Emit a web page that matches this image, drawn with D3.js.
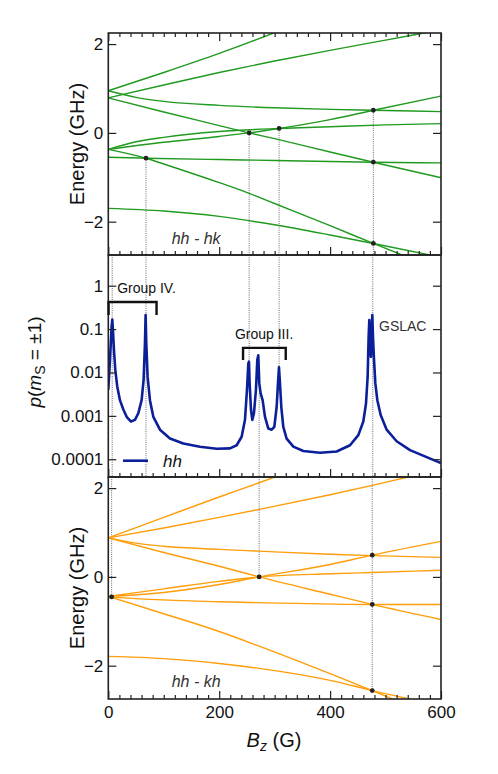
<!DOCTYPE html>
<html>
<head>
<meta charset="utf-8">
<script src="https://cdnjs.cloudflare.com/ajax/libs/d3/7.8.5/d3.min.js"></script>
<style>
body{margin:0;background:#fff;}
text{font-family:"Liberation Sans",Arial,Helvetica,sans-serif;}
</style>
</head>
<body>
<div id="chart"></div>
<script>
var w=498, h=774, left=108.3, right=441

// hh - hk energy levels, [B (G), E (GHz)]
var hkLevels=[
 [[0,0.95],[100,1.36],[200,1.79],[300,2.26],[320,2.36]],
 [[0,0.79],[100,1.08],[200,1.36],[300,1.62],[400,1.86],[500,2.09],[600,2.32]],
 [[0,0.95],[50,0.8],[100,0.71],[200,0.62],[300,0.565],[400,0.53],[478,0.51],[600,0.48]],
 [[0,0.79],[100,0.47],[200,0.165],[254,0],[300,-0.13],[400,-0.43],[478,-0.66],[600,-1.01]],
 [[0,-0.37],[100,-0.21],[200,-0.08],[254,0],[308,0.1],[400,0.3],[478,0.51],[600,0.83]],
 [[0,-0.37],[50,-0.2],[100,-0.1],[200,0.03],[308,0.1],[400,0.14],[500,0.18],[600,0.21]],
 [[0,-0.37],[68,-0.57],[100,-0.7],[200,-1.12],[254,-1.36],[300,-1.59],[400,-2.09],[478,-2.49],[600,-3.1]],
 [[0,-0.55],[68,-0.57],[200,-0.6],[300,-0.62],[478,-0.66],[600,-0.675]],
 [[0,-1.7],[100,-1.76],[200,-1.88],[300,-2.07],[400,-2.3],[478,-2.49],[600,-2.8]]
];
var hkCross=[[68,-0.57],[254,0],[308,0.1],[478,0.51],[478,-0.66],[478,-2.49]];

// hh - kh energy levels
var khLevels=[
 [[0,0.88],[100,1.34],[200,1.8],[272,2.12],[320,2.34]],
 [[0,0.88],[100,1.1],[200,1.34],[272,1.52],[400,1.85],[476,2.06],[600,2.42]],
 [[0,0.88],[50,0.76],[100,0.69],[200,0.62],[272,0.58],[400,0.51],[476,0.48],[600,0.44]],
 [[0,0.88],[100,0.55],[200,0.24],[272,0],[400,-0.39],[476,-0.62],[600,-0.96]],
 [[0,-0.44],[100,-0.35],[200,-0.17],[272,0],[400,0.28],[476,0.49],[600,0.8]],
 [[0,-0.44],[100,-0.27],[200,-0.1],[272,0],[400,0.07],[476,0.1],[600,0.15]],
 [[0,-0.44],[100,-0.83],[200,-1.23],[272,-1.56],[400,-2.18],[476,-2.56],[600,-3.2]],
 [[0,-0.44],[6,-0.45],[200,-0.56],[272,-0.58],[476,-0.62],[600,-0.62]],
 [[0,-1.79],[100,-1.84],[200,-1.95],[272,-2.06],[400,-2.33],[476,-2.56],[600,-2.9]]
];
var khCross=[[6,-0.45],[272,0],[476,0.49],[476,-0.62],[476,-2.56]];

// p(mS=±1) vs B
var probB=[0,3,6,7.2,8.4,10.2,12.6,16.2,21,27.1,33.1,40.9,48.1,54.1,60.1,63.7,66.1,67.3,68.5,70.9,75.1,81.2,93.2,111.2,135.3,165.3,195.4,219.4,231.5,240.5,246.5,250.1,252.5,253.7,254.9,257.3,259.7,262.7,266.3,268.7,270.5,272.3,274.7,278.3,282.6,288.6,294.6,299.4,303.6,306,307.8,309.6,312,315.6,321.6,333.7,351.7,381.8,411.8,435.9,450.9,459.9,464.7,467.7,469.5,470.7,472.5,473.7,474.9,476.1,477.3,479.2,481.6,485.2,491.2,502,520,544.1,574.1,600];
var probP=[0.004,0.0195,0.115,0.166,0.095,0.033,0.0115,0.0047,0.0023,0.0014,0.00095,0.00074,0.00081,0.00115,0.0023,0.0068,0.047,0.21,0.047,0.0079,0.0023,0.00095,0.00048,0.0003,0.00023,0.000195,0.000174,0.000178,0.00021,0.00033,0.00081,0.004,0.016,0.0178,0.0056,0.0014,0.00081,0.00115,0.004,0.0195,0.025,0.0056,0.0033,0.0023,0.00095,0.00051,0.00048,0.00056,0.0016,0.0056,0.0132,0.0056,0.0016,0.00056,0.0003,0.000195,0.000155,0.000141,0.000151,0.00021,0.00036,0.00074,0.0019,0.0079,0.068,0.162,0.033,0.023,0.079,0.21,0.068,0.0195,0.0056,0.0023,0.00105,0.00048,0.00026,0.000162,0.000112,0.0000813];

var xMajor=[0,200,400,600];
var eTicks=[-2,0,2];
var pTicks=[1e-4,1e-3,1e-2,1e-1,1];
var pTickLabels=["0.0001","0.001","0.01","0.1","1"];

var svg=d3.select("#chart")
.append("svg")
.attr("width",w)
.attr("height",h);

var x=d3.scaleLinear().domain([0,600]).range([left,right]);
var yTop=d3.scaleLinear().domain([-2.75,2.25]).range([255,33]);
var yMid=d3.scaleLog().domain([3.9e-5,5.1]).range([477,255]);
var yBot=d3.scaleLinear().domain([-2.75,2.25]).range([699,477]);

var xMinor=d3.range(0,601,20).filter(function(d){return xMajor.indexOf(d)<0;});

function clip(id,y){
  svg.append("clipPath").attr("id",id)
  .append("rect")
  .attr("x",left).attr("y",y.range()[1])
  .attr("width",right-left).attr("height",y.range()[0]-y.range()[1]);
}
clip("cTop",yTop); clip("cMid",yMid); clip("cBot",yBot);

// dotted guide lines
var guide=svg.append("g")
.attr("stroke","#444")
.attr("stroke-width",0.8)
.attr("stroke-dasharray","1,1.2");

function vline(b,y0,y1){
  guide.append("line")
  .attr("x1",x(b)).attr("x2",x(b))
  .attr("y1",y0).attr("y2",y1);
}
// top panel: from crossing down
vline(68,yTop(-0.57),255); vline(254,yTop(0),255); vline(308,yTop(0.1),255); vline(478,yTop(0.51),255);
// middle panel
vline(7,255,477); vline(68,255,477); vline(477,255,477);
vline(254,255,yMid(0.0178)); vline(308,255,yMid(0.0132)); vline(272,yMid(0.0033),477);
// bottom panel: from top to crossing
vline(6,477,yBot(-0.45)); vline(272,477,yBot(0)); vline(476,477,yBot(-2.56));

function levels(data,y,color,cid){
  var line=d3.line()
  .x(function(d){return x(d[0]);})
  .y(function(d){return y(d[1]);})
  .curve(d3.curveMonotoneX);
  svg.append("g").attr("clip-path","url(#"+cid+")")
  .selectAll("path").data(data).enter()
  .append("path")
  .attr("d",line)
  .attr("fill","none")
  .attr("stroke",color)
  .attr("stroke-width",1.4);
}
levels(hkLevels,yTop,"#1f9a1f","cTop");
levels(khLevels,yBot,"#ff9d0a","cBot");

function dots(data,y){
  svg.append("g").selectAll("circle").data(data).enter()
  .append("circle")
  .attr("cx",function(d){return x(d[0]);})
  .attr("cy",function(d){return y(d[1]);})
  .attr("r",2.4)
  .attr("fill","#222");
}
dots(hkCross,yTop);
dots(khCross,yBot);

// probability curve
var probLine=d3.line()
.x(function(d,i){return x(probB[i]);})
.y(function(d){return yMid(d);});
svg.append("path")
.attr("clip-path","url(#cMid)")
.attr("d",probLine(probP))
.attr("fill","none")
.attr("stroke","#0b1f98")
.attr("stroke-width",2.6)
.attr("stroke-linejoin","round");

// axes
function styleAxis(g){
  g.select(".domain").remove();
  g.attr("font-family","Liberation Sans, Arial, sans-serif").attr("font-size",17).attr("color","#222");
  g.selectAll("line").attr("stroke-width",1.2);
  g.selectAll("text").attr("fill","#111");
}
function panel(y,withTop,eLabels){
  var y0=y.range()[1], y1=y.range()[0];
  svg.append("g").attr("transform","translate(0,"+y1+")")
  .call(d3.axisBottom(x).tickValues(xMinor).tickSize(-4).tickFormat("")).call(styleAxis);
  svg.append("g").attr("transform","translate(0,"+y1+")")
  .call(d3.axisBottom(x).tickValues(xMajor).tickSize(-8).tickPadding(7).tickFormat(eLabels?d3.format("d"):"")).call(styleAxis);
  if(withTop){
    svg.append("g").attr("transform","translate(0,"+y0+")")
    .call(d3.axisTop(x).tickValues(xMinor).tickSize(-4).tickFormat("")).call(styleAxis);
    svg.append("g").attr("transform","translate(0,"+y0+")")
    .call(d3.axisTop(x).tickValues(xMajor).tickSize(-8).tickFormat("")).call(styleAxis);
  }
  svg.append("rect")
  .attr("x",left).attr("y",y0)
  .attr("width",right-left).attr("height",y1-y0)
  .attr("fill","none").attr("stroke","#222").attr("stroke-width",1.6);
}
panel(yTop,true,false);
panel(yMid,false,false);
panel(yBot,false,true);

[yTop,yBot].forEach(function(y){
  svg.append("g").attr("transform","translate("+left+",0)")
  .call(d3.axisLeft(y).tickValues(eTicks).tickSize(-8).tickPadding(5).tickFormat(d3.format("d"))).call(styleAxis);
  svg.append("g").attr("transform","translate("+right+",0)")
  .call(d3.axisRight(y).tickValues(eTicks).tickSize(-8).tickFormat("")).call(styleAxis);
});
svg.append("g").attr("transform","translate("+left+",0)")
.call(d3.axisLeft(yMid).tickValues(pTicks).tickSize(-8).tickPadding(5).tickFormat(function(d,i){return pTickLabels[i];})).call(styleAxis);
svg.append("g").attr("transform","translate("+right+",0)")
.call(d3.axisRight(yMid).tickValues(pTicks).tickSize(-8).tickFormat("")).call(styleAxis);

// axis titles
[144,588].forEach(function(cy){
  svg.append("text")
  .attr("transform","translate(83.5,"+cy+") rotate(-90)")
  .attr("text-anchor","middle")
  .attr("font-size",20)
  .attr("fill","#111")
  .text("Energy (GHz)");
});

var pl=svg.append("text")
.attr("transform","translate(41,362) rotate(-90)")
.attr("text-anchor","middle")
.attr("font-size",19)
.attr("fill","#111");
pl.append("tspan").attr("font-style","italic").text("p");
pl.append("tspan").text("(");
pl.append("tspan").attr("font-style","italic").text("m");
pl.append("tspan").attr("font-size",14).attr("dy",4).text("S");
pl.append("tspan").attr("dy",-4).text(" = ±1)");

var xl=svg.append("text")
.attr("x",274).attr("y",747)
.attr("text-anchor","middle")
.attr("font-size",20)
.attr("fill","#111");
xl.append("tspan").attr("font-style","italic").text("B");
xl.append("tspan").attr("font-style","italic").attr("font-size",14).attr("dy",4).text("z");
xl.append("tspan").attr("dy",-4).text(" (G)");

// annotations
svg.append("text").attr("x",171.7).attr("y",244).attr("font-size",16).attr("font-style","italic").attr("fill","#333").text("hh - hk");
svg.append("text").attr("x",171.7).attr("y",687).attr("font-size",16).attr("font-style","italic").attr("fill","#333").text("hh - kh");

function bracket(b0,b1,pTop,pFoot){
  var p=d3.path();
  p.moveTo(x(b0),yMid(pFoot)); p.lineTo(x(b0),yMid(pTop));
  p.lineTo(x(b1),yMid(pTop)); p.lineTo(x(b1),yMid(pFoot));
  svg.append("path").attr("d",p.toString())
  .attr("fill","none").attr("stroke","#111").attr("stroke-width",2.4);
}
bracket(0.5,87,0.42,0.21);
bracket(243,320,0.037,0.0195);
svg.append("text").attr("x",x(16)).attr("y",293).attr("font-size",14).attr("fill","#111").text("Group IV.");
svg.append("text").attr("x",x(281)).attr("y",339).attr("text-anchor","middle").attr("font-size",14).attr("fill","#111").text("Group III.");
svg.append("text").attr("x",379).attr("y",331).attr("font-size",14).attr("fill","#333").text("GSLAC");

// legend
svg.append("line").attr("x1",123).attr("x2",148).attr("y1",460.7).attr("y2",460.7)
.attr("stroke","#0b1f98").attr("stroke-width",2.6);
svg.append("text").attr("x",163).attr("y",466.5).attr("font-size",17).attr("font-style","italic").attr("fill","#111").text("hh");
</script>
</body>
</html>
